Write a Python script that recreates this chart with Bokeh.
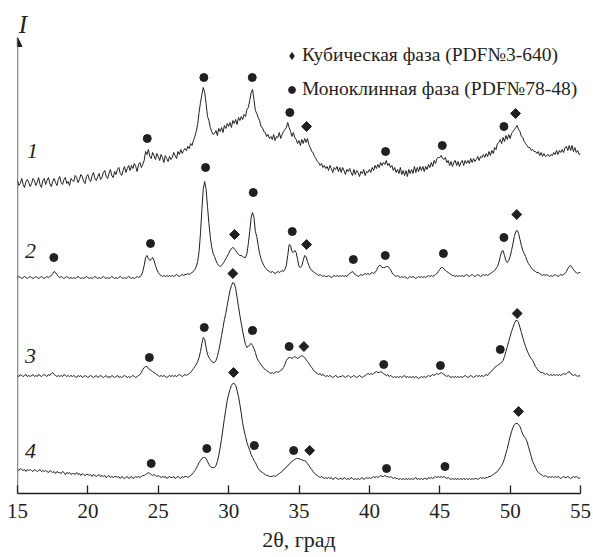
import numpy as np
from bokeh.plotting import figure
from bokeh.models import (Range1d, Arrow, NormalHead, Label, Legend, LegendItem,
                          FixedTicker, ColumnDataSource)
from bokeh.core.properties import value
from bokeh.embed import file_html
from bokeh.resources import INLINE

# ---------------- data ----------------
# 2theta grid (deg), 0.1 step from 15 to 55
two_theta = np.round(np.arange(15.0, 55.05, 0.1), 1)

# Intensities (arb. units, curves already offset vertically)
curve1 = [
    313,308,310,315,309,306,312,314,311,307,
    310,315,313,308,311,316,309,306,313,315,
    309,313,316,310,307,312,315,311,308,314,
    317,311,309,314,316,310,312,308,315,313,
    312,318,316,311,314,319,317,312,310,317,
    319,314,312,318,321,315,313,317,320,314,
    316,321,323,317,315,320,324,318,316,322,
    319,324,326,320,318,323,327,321,325,328,
    323,328,325,330,327,322,329,331,326,329,
    333,342,339,344,337,335,341,338,334,340,
    337,333,339,336,331,338,335,332,337,334,
    336,341,338,335,342,339,344,340,343,345,
    343,347,345,350,348,353,357,362,369,381,
    391,399,406,401,390,377,373,366,362,359,
    360,363,358,365,362,366,361,368,365,370,
    367,371,366,373,370,374,369,376,373,377,
    374,379,377,384,386,393,401,404,394,383,
    380,376,373,367,366,362,361,357,359,355,
    357,354,359,353,357,356,361,355,359,362,
    364,366,371,366,362,357,361,356,354,350,
    353,348,354,350,355,351,355,349,346,342,
    341,337,335,332,331,328,330,326,328,325,
    327,323,328,325,321,326,324,327,322,326,
    321,326,323,319,324,322,325,321,318,324,
    319,323,321,317,322,320,324,318,322,321,
    324,321,326,323,328,325,329,326,331,328,
    331,329,333,328,330,326,328,323,326,321,
    324,320,326,319,323,318,323,317,324,320,
    324,320,327,321,326,322,327,323,327,322,
    327,324,329,326,331,327,333,330,335,336,
    336,338,335,334,336,331,333,328,332,327,
    331,333,328,332,327,331,333,328,333,330,
    333,330,335,331,335,332,334,337,333,337,
    336,339,336,340,337,342,338,343,340,346,
    344,350,351,354,350,356,352,358,354,359,
    355,360,362,364,366,368,364,362,357,356,
    352,350,348,346,346,343,344,342,342,340,
    342,338,341,337,340,337,338,339,337,339,
    338,341,339,343,339,343,341,344,341,346,
    347,343,348,343,348,342,346,341,343,339,
    340]

curve2 = [
    216,217,216,215,216,217,216,215,216,217,
    216,215,216,217,216,215,216,217,216,215,
    216,217,216,217,218,220,222,221,219,217,
    216,217,216,215,216,217,216,215,216,215,
    216,215,216,217,216,215,216,215,216,217,
    216,215,216,215,216,217,216,215,216,215,
    216,217,216,215,216,215,216,217,216,215,
    216,215,216,217,216,215,216,215,216,217,
    216,215,216,215,216,217,216,217,218,222,
    228,236,238,235,233,234,236,233,228,224,
    221,219,218,217,218,217,218,217,218,217,
    218,217,218,219,218,217,218,219,218,219,
    219,220,219,220,221,222,224,227,232,242,
    260,284,305,312,304,287,270,256,246,240,
    237,233,230,228,227,228,230,232,235,237,
    240,243,245,246,245,243,241,239,238,238,
    237,236,236,240,250,262,276,281,276,262,
    257,248,240,235,231,228,226,224,223,222,
    221,222,221,220,221,222,221,222,223,222,
    224,228,238,249,248,242,241,243,241,234,
    227,226,228,233,238,237,232,228,225,223,
    222,221,220,219,218,219,218,217,218,217,
    217,218,217,216,217,218,217,218,217,218,
    217,218,217,218,217,219,220,221,222,220,
    219,218,217,218,219,218,219,220,219,220,
    219,220,221,220,221,223,226,228,228,226,
    226,226,227,227,226,224,221,219,218,217,
    218,217,216,217,216,217,216,215,216,217,
    216,217,216,215,216,217,216,217,216,217,
    216,217,218,217,218,217,218,219,220,222,
    224,226,226,225,223,222,221,220,219,218,
    218,217,218,217,218,217,218,217,218,219,
    218,217,218,219,218,217,218,219,218,217,
    218,219,218,219,218,219,220,221,222,223,
    225,227,231,237,242,243,238,233,231,233,
    237,243,250,257,262,263,260,254,248,243,
    240,237,233,230,228,226,224,223,222,221,
    221,220,219,218,219,218,219,218,217,218,
    217,218,219,218,217,218,219,218,219,220,
    222,225,227,228,226,224,222,221,220,221,
    221]

curve3 = [
    118,117,119,118,117,118,119,117,118,117,
    118,119,117,118,117,119,118,117,118,119,
    118,117,119,118,120,121,119,118,117,118,
    117,118,117,119,118,117,118,117,118,117,
    118,117,116,118,117,118,116,117,118,117,
    116,117,118,117,116,117,118,116,117,118,
    117,116,117,118,116,117,116,118,117,116,
    117,118,116,117,116,117,118,117,116,117,
    116,117,118,117,116,117,118,119,121,124,
    126,127,127,125,124,123,122,121,120,119,
    118,117,118,117,118,117,116,117,118,117,
    118,117,118,117,118,119,118,117,118,119,
    118,119,120,121,123,125,127,129,132,136,
    142,150,156,154,146,139,136,134,132,131,
    131,133,137,143,150,158,166,174,180,188,
    196,203,208,211,210,205,196,187,178,170,
    162,155,149,146,147,149,150,148,145,141,
    136,133,131,129,127,125,124,123,122,121,
    120,121,120,121,122,121,122,123,124,126,
    129,133,135,136,136,135,136,137,136,135,
    136,137,138,137,136,134,132,130,128,126,
    124,122,121,120,119,120,118,119,118,117,
    118,117,118,117,116,117,118,117,116,117,
    117,118,117,116,117,118,117,116,117,118,
    117,116,117,118,117,116,117,118,119,120,
    119,120,119,120,121,122,121,121,122,121,
    120,119,118,119,117,118,117,116,117,116,
    117,116,117,116,117,118,116,117,116,117,
    116,117,116,117,116,115,116,117,116,117,
    116,117,118,117,118,119,118,119,120,119,
    120,121,120,119,118,117,118,117,116,117,
    116,117,116,117,116,117,116,117,118,117,
    116,117,118,117,116,117,118,117,118,117,
    118,117,118,119,118,120,121,123,124,126,
    127,128,129,130,131,133,137,142,147,152,
    157,162,166,170,173,173,171,166,161,156,
    151,147,143,140,137,135,133,130,127,125,
    123,122,121,121,120,119,120,119,118,119,
    118,119,118,119,118,119,118,119,120,119,
    120,121,122,120,119,118,119,118,117,118,
    117]

curve4 = [
    24,23,25,24,23,24,22,24,23,24,
    23,22,24,23,22,23,24,22,23,22,
    23,22,21,23,22,21,22,20,22,21,
    21,20,22,21,19,21,20,21,19,20,
    20,19,21,19,20,18,20,19,18,19,
    19,18,19,17,19,18,17,18,19,17,
    18,17,18,16,17,18,16,17,16,17,
    17,16,17,15,17,16,15,16,17,15,
    16,17,15,16,17,16,17,16,17,18,
    18,19,20,21,20,19,18,19,18,17,
    18,17,16,17,16,17,15,16,17,16,
    16,17,15,16,17,16,15,17,16,17,
    17,16,17,18,19,21,23,25,28,31,
    33,35,36,36,35,32,29,27,26,26,
    26,28,32,38,46,55,65,75,84,93,
    99,104,108,110,110,108,103,97,89,80,
    70,63,57,51,47,43,39,36,33,31,
    28,25,23,22,21,20,19,18,18,17,
    17,17,18,17,18,19,20,21,22,24,
    25,26,28,29,31,32,33,34,35,35,
    35,34,34,33,33,32,30,28,26,24,
    22,20,19,18,17,16,17,16,15,16,
    15,16,15,16,14,15,16,15,14,15,
    15,14,16,15,14,15,14,16,15,14,
    15,14,15,14,15,16,14,15,16,15,
    16,15,16,17,16,17,16,17,18,17,
    17,18,17,17,16,17,16,15,16,15,
    15,14,15,14,15,14,15,14,15,14,
    15,14,15,16,14,15,14,15,14,15,
    15,14,16,15,16,15,16,17,16,17,
    16,17,16,17,16,15,16,15,14,15,
    14,15,14,15,14,15,14,15,14,15,
    14,15,14,15,14,15,15,14,15,16,
    15,16,15,16,16,17,17,18,19,20,
    21,22,24,26,28,31,35,40,45,51,
    57,62,66,69,70,70,69,67,63,59,
    57,55,52,47,42,37,32,29,26,23,
    21,20,19,18,17,18,17,16,17,16,
    17,16,17,16,17,16,15,16,17,16,
    16,17,16,15,16,17,16,17,16,15,
    16]

# phase markers: monoclinic (circles) and cubic (diamonds), per curve
c1_mono_x = [24.22, 28.24, 31.68, 34.35, 41.15, 45.18, 49.56]
c1_mono_y = [355, 416, 416, 381, 342, 348, 367]
c1_cub_x = [35.54, 50.39]
c1_cub_y = [367, 380]
c2_mono_x = [17.58, 24.45, 28.36, 31.75, 34.52, 38.86, 41.13, 45.26, 49.56]
c2_mono_y = [236, 250, 326, 301, 262, 234, 238, 240, 256]
c2_cub_x = [30.42, 35.54, 50.47]
c2_cub_y = [259, 249, 279]
c3_mono_x = [24.37, 28.27, 31.70, 34.30, 41.02, 45.05, 49.30]
c3_mono_y = [136, 166, 163, 147, 129, 128, 144]
c3_cub_x = [30.30, 35.35, 50.50]
c3_cub_y = [220, 147, 180]
c4_mono_x = [24.50, 28.45, 31.83, 34.62, 41.22, 45.37]
c4_mono_y = [30, 45, 48, 43, 25, 27]
c4_cub_x = [30.35, 35.76, 50.60]
c4_cub_y = [121, 43, 82]

curve_names = ["1", "2", "3", "4"]
x_ticks = [15, 20, 25, 30, 35, 40, 45, 50, 55]
legend_labels = ["Кубическая фаза (PDF№3-640)", "Моноклинная фаза (PDF№78-48)"]
x_title = "2θ, град"
y_title = "I"

# ---------------- layout / style ----------------
INK = "#231f20"
SERIF = "Liberation Serif"
name_x = [16.07, 15.92, 15.92, 15.92]
name_y = [343, 243, 138, 43]

p = figure(width=593, height=557, output_backend="svg", toolbar_location=None,
           x_range=Range1d(15, 55), y_range=Range1d(0, 483),
           min_border_left=17, min_border_right=13, min_border_top=10,
           min_border_bottom=64)
p.outline_line_color = None
p.xgrid.visible = False
p.ygrid.visible = False
p.yaxis.visible = False

ax = p.xaxis[0]
ax.ticker = FixedTicker(ticks=x_ticks)
ax.major_tick_in = 8
ax.major_tick_out = 0
ax.minor_tick_line_color = None
ax.axis_line_width = 1.3
ax.axis_line_color = INK
ax.major_tick_line_color = INK
ax.major_tick_line_width = 1.3
ax.major_label_text_font = SERIF
ax.major_label_text_font_size = "21px"
ax.major_label_text_color = INK
ax.major_label_standoff = 10
ax.axis_label = x_title
ax.axis_label_text_font = SERIF
ax.axis_label_text_font_size = "22px"
ax.axis_label_text_font_style = "normal"
ax.axis_label_text_color = INK
ax.axis_label_standoff = 6

# y axis as an arrow
p.add_layout(Arrow(x_start=15, y_start=0, x_end=15, y_end=456,
                   line_color=INK, line_width=1.3,
                   end=NormalHead(size=9, fill_color=INK, line_color=INK)))
p.add_layout(Label(x=15.39, y=469, text=y_title, text_font=SERIF,
                   text_font_size="25px", text_font_style="italic",
                   text_color=INK, text_align="center", text_baseline="middle"))

for yy in (curve1, curve2, curve3, curve4):
    p.line(two_theta, yy, line_color=INK, line_width=1)

mono_src = ColumnDataSource(dict(
    x=c1_mono_x + c2_mono_x + c3_mono_x + c4_mono_x,
    y=c1_mono_y + c2_mono_y + c3_mono_y + c4_mono_y))
cub_src = ColumnDataSource(dict(
    x=c1_cub_x + c2_cub_x + c3_cub_x + c4_cub_x,
    y=c1_cub_y + c2_cub_y + c3_cub_y + c4_cub_y))

r_mono = p.scatter("x", "y", source=mono_src, marker="circle", size=8,
                   fill_color=INK, line_color=INK)
# diamond-type key renderer (hidden under the rotated squares) for the legend
r_cub_key = p.scatter("x", "y", source=cub_src, marker="diamond", size=8,
                      fill_color=INK, line_color=INK)
p.scatter("x", "y", source=cub_src, marker="square", angle=np.pi / 4, size=7,
          fill_color=INK, line_color=INK)

p.text(x=name_x, y=name_y, text=curve_names, text_font=value(SERIF),
       text_font_size="22px", text_font_style="italic", text_color=INK,
       text_align="center", text_baseline="middle")

legend = Legend(items=[LegendItem(label=legend_labels[0], renderers=[r_cub_key]),
                       LegendItem(label=legend_labels[1], renderers=[r_mono])],
                location=(266, 391), glyph_width=17, glyph_height=17,
                label_height=26, spacing=8, padding=0, margin=0,
                label_standoff=2, label_text_font=SERIF,
                label_text_font_size="19.5px", label_text_color=INK,
                border_line_color=None, background_fill_alpha=0)
p.add_layout(legend)

open("out.html", "w").write(file_html(p, INLINE))
